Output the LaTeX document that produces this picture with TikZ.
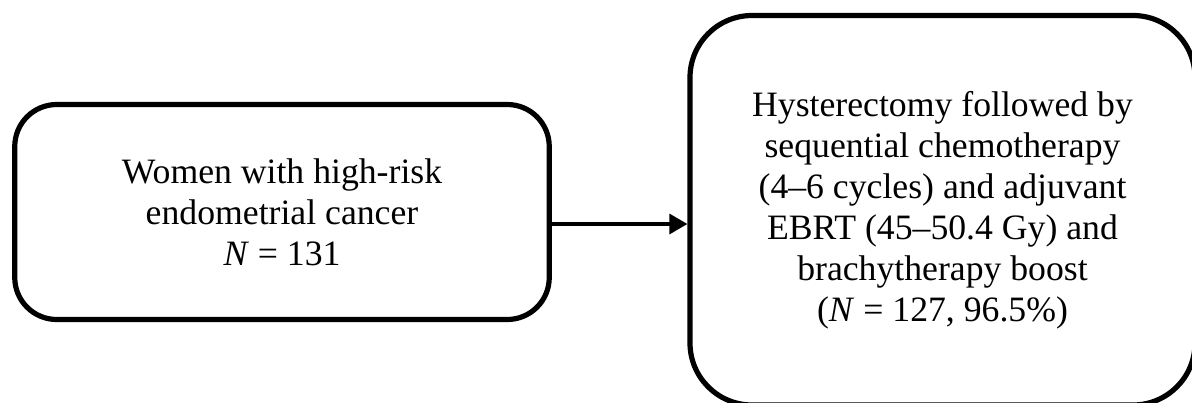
\documentclass[tikz,border=0pt]{standalone}
\usepackage{fontspec}
\setmainfont{Liberation Serif}
\usetikzlibrary{arrows.meta}
\begin{document}
\begin{tikzpicture}[x=0.5pt,y=-0.5pt,
  box/.style={draw=black,line width=2.6pt,fill=white,inner sep=0pt,
    align=center,font=\fontsize{17.85}{20.5}\selectfont},
  flow/.style={draw=black,line width=1.6pt,-{Triangle[length=9pt,width=10pt]}}]
  \useasboundingbox (0,0) rectangle (1192,402);
  % source cohort
  \node[box,rounded corners=21pt,minimum width=267.25pt,minimum height=107.5pt]
    (cohort) at (282,212) {Women with high-risk\\endometrial cancer\\\textit{N} = 131};
  % treatment received
  \node[box,rounded corners=31pt,minimum width=252.5pt,minimum height=194.75pt]
    (treat) at (942.5,210.25) {Hysterectomy followed by\\sequential chemotherapy\\(4–6 cycles) and adjuvant\\EBRT (45–50.4 Gy) and\\brachytherapy boost\\(\textit{N} = 127, 96.5\%)};
  \draw[flow] ([yshift=-6pt]cohort.east) -- ([yshift=-6pt]cohort.east -| treat.west);
\end{tikzpicture}
\end{document}
